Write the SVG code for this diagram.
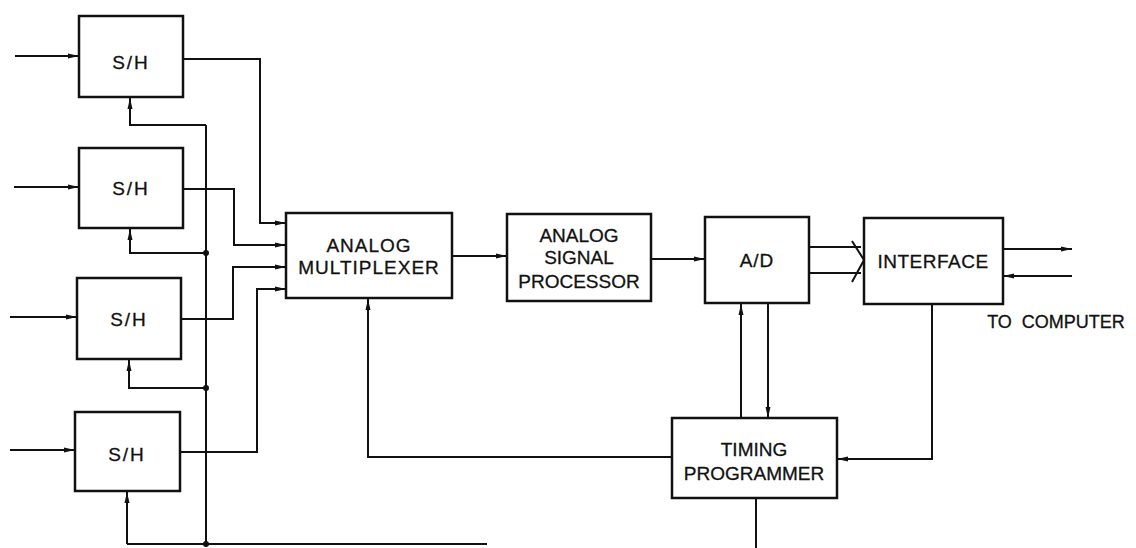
<svg xmlns="http://www.w3.org/2000/svg" width="1136" height="548" viewBox="0 0 1136 548">
<style>
.box{fill:#fff;stroke:#111;stroke-width:2.5}
.ln{fill:none;stroke:#111;stroke-width:2}
.arr{marker-end:url(#ah)}
text{font-family:"Liberation Sans",Arial,sans-serif;font-size:19px;fill:#111;stroke:#111;stroke-width:0.3;text-anchor:middle;dominant-baseline:central}
.dot{fill:#111}
</style>
<defs>
<marker id="ah" markerUnits="userSpaceOnUse" markerWidth="12" markerHeight="8" refX="11" refY="4" orient="auto">
<path d="M0,1.5 L11,4 L0,6.5 z" fill="#111"/>
</marker>
</defs>
<rect width="1136" height="548" fill="#fff"/>
<g id="connectors">
<path class="ln arr" d="M15,56 H79"/>
<path class="ln arr" d="M14,187 H79"/>
<path class="ln arr" d="M10,317 H77"/>
<path class="ln arr" d="M10,450 H75"/>
<path class="ln" d="M206,125 V544"/>
<path class="ln" d="M127,544 H487"/>
<path class="ln arr" d="M206,125 H130 V98"/>
<path class="ln arr" d="M206,253 H130 V229"/>
<path class="ln arr" d="M206,388 H129 V360"/>
<path class="ln arr" d="M127,544 V492"/>
<circle class="dot" cx="206" cy="253" r="3"/>
<circle class="dot" cx="206" cy="388" r="3"/>
<circle class="dot" cx="206" cy="544" r="3"/>
<path class="ln arr" d="M183,59 H260 V223 H286"/>
<path class="ln arr" d="M183,189 H234 V245 H286"/>
<path class="ln arr" d="M181,319 H233 V267 H286"/>
<path class="ln arr" d="M180,452 H257 V289 H286"/>
<path class="ln arr" d="M452,256 H507"/>
<path class="ln arr" d="M651,259 H705"/>
<path class="ln" d="M809,247 H861 M809,273 H861"/>
<path class="ln" d="M852,241 L864,260 L852,282"/>
<path class="ln arr" d="M1003,249 H1072"/>
<path class="ln arr" d="M1072,276 H1003"/>
<path class="ln arr" d="M741,418 V304"/>
<path class="ln arr" d="M768,303 V418"/>
<path class="ln arr" d="M932,304 V459 H837"/>
<path class="ln arr" d="M672,457 H368 V299"/>
<path class="ln" d="M756,498 V548"/>
</g>
<g id="sh1"><rect class="box" x="79" y="16" width="104" height="81"/><text x="131" y="62" letter-spacing="2">S/H</text></g>
<g id="sh2"><rect class="box" x="79" y="148" width="104" height="80"/><text x="131" y="188" letter-spacing="2">S/H</text></g>
<g id="sh3"><rect class="box" x="77" y="278" width="104" height="81"/><text x="129" y="319" letter-spacing="2">S/H</text></g>
<g id="sh4"><rect class="box" x="75" y="412" width="105" height="79"/><text x="127" y="454" letter-spacing="2">S/H</text></g>
<g id="mux"><rect class="box" x="286" y="213" width="166" height="85"/><text x="369" y="245" letter-spacing="1">ANALOG</text><text x="369" y="267" letter-spacing="1">MULTIPLEXER</text></g>
<g id="asp"><rect class="box" x="507" y="214" width="144" height="87"/><text x="579" y="235">ANALOG</text><text x="579" y="257">SIGNAL</text><text x="579" y="281">PROCESSOR</text></g>
<g id="ad"><rect class="box" x="705" y="217" width="104" height="86"/><text x="757" y="260" letter-spacing="1">A/D</text></g>
<g id="interface"><rect class="box" x="864" y="218" width="139" height="86"/><text x="933" y="261" letter-spacing="0.5">INTERFACE</text></g>
<g id="timing"><rect class="box" x="672" y="418" width="165" height="80"/><text x="754" y="449">TIMING</text><text x="754" y="473">PROGRAMMER</text></g>
<text x="1056" y="322" style="font-size:18px" xml:space="preserve">TO  COMPUTER</text>
</svg>
